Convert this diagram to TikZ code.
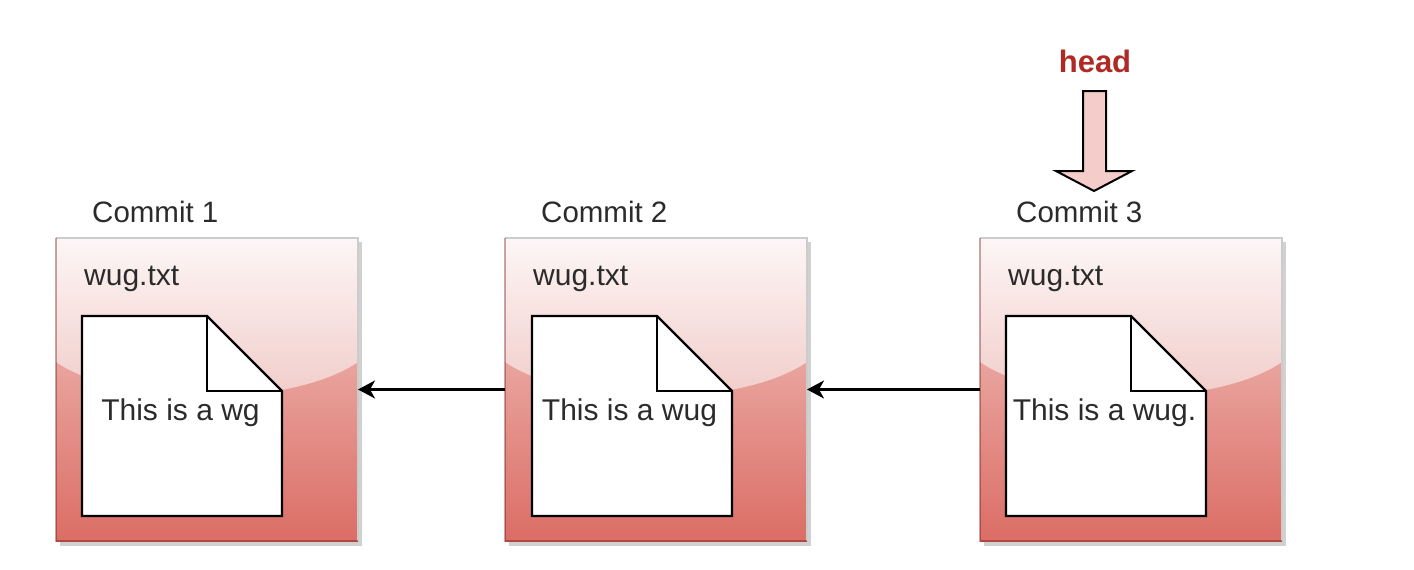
\documentclass[tikz,border=0pt]{standalone}
\usepackage{fontspec}
\setmainfont{Liberation Sans}
\usetikzlibrary{arrows.meta}
\definecolor{txt}{HTML}{2B2B2B}
\definecolor{headred}{HTML}{B02A25}
\definecolor{pink}{HTML}{F4CDCA}
\definecolor{glosstop}{HTML}{FDF6F6}
\definecolor{glossend}{HTML}{F1CDCA}
\definecolor{lowtop}{HTML}{E9A49E}
\definecolor{lowbot}{HTML}{DB6D65}
\tikzset{
  title text/.style={font=\fontsize{29.5}{33}\selectfont,text=txt,inner sep=0pt,anchor=base west},
  label text/.style={font=\fontsize{30}{33}\selectfont,text=txt,inner sep=0pt,anchor=base west},
  center text/.style={font=\fontsize{30}{33}\selectfont,text=txt,inner sep=0pt,anchor=base},
  commit box/.style={minimum width=302pt,minimum height=303pt,inner sep=0pt,outer sep=0pt},
  doc line/.style={draw=black,line width=2.2pt,line join=miter},
  link/.style={draw=black,line width=2.2pt,-{Stealth[length=17pt,width=18pt,inset=5pt]}},
}
\newcommand{\commitbox}[5]{%
  \begin{scope}[shift={(#1,0)}]
    \fill[black!18] (4,242) rectangle (306,546);
    \node[commit box] (#2) at (151,389.5) {};
    \shade[top color=lowtop,bottom color=lowbot] (0,362) rectangle (302,541);
    \begin{scope}
      \clip (0,238) -- (302,238) -- (302,362) .. controls (235,408) and (67,408) .. (0,362) -- cycle;
      \shade[top color=glosstop,bottom color=glossend] (0,238) rectangle (302,397);
    \end{scope}
    \draw[black!20,line width=1.2pt] (0,238) -- (302,238) -- (302,541);
    \draw[red!40!black,opacity=.35,line width=1.2pt] (0,238) -- (0,541) -- (302,541);
    \draw[doc line,fill=white] (#5,316) -- ({#5+125},316) -- ({#5+200},391) -- ({#5+200},516) -- (#5,516) -- cycle;
    \draw[doc line] ({#5+125},316) -- ({#5+125},391) -- ({#5+200},391);
    \node[title text] (#2title) at (36,222) {#3};
    \node[label text] (#2file) at (28,285) {wug.txt};
    \node[center text] (#2body) at (124.5,420) {#4};
  \end{scope}}
\begin{document}
\begin{tikzpicture}[x=1pt,y=-1pt]
  \useasboundingbox (0,0) rectangle (1414,570);
  \fill[white] (0,0) rectangle (1414,570);
  \commitbox{56}{a}{Commit 1}{This is a wg}{26}
  \commitbox{505}{b}{Commit 2}{This is a wug}{27}
  \commitbox{980}{c}{Commit 3}{This is a wug.}{26}
  \draw[link] (b.west) -- (a.east);
  \draw[link] (c.west) -- (b.east);
  \node[font=\fontsize{31}{33}\bfseries\selectfont,text=headred,inner sep=0pt,anchor=base] (head) at (1095,72) {head};
  \draw[fill=pink,draw=black,line width=2pt,line join=miter]
    (1083,91) -- (1106,91) -- (1106,171) -- (1132,171) -- (1094,191) -- (1056,171) -- (1083,171) -- cycle;
\end{tikzpicture}
\end{document}
